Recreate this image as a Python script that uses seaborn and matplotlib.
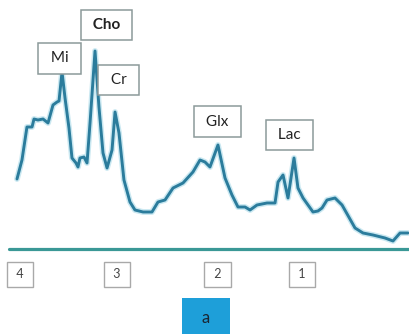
import matplotlib
matplotlib.use("Agg")
import matplotlib.pyplot as plt
from matplotlib.patches import Rectangle
import pandas as pd
import seaborn as sns

# Chemical shift axis (ppm) and signal intensity (a.u.)
ppm = [4.032, 3.979, 3.926, 3.872, 3.851, 3.809, 3.755, 3.702, 3.649, 3.606,
       3.585, 3.553, 3.521, 3.479, 3.447, 3.404, 3.383, 3.362, 3.319, 3.287,
       3.255, 3.202, 3.160, 3.117, 3.074, 3.021, 2.989, 2.947, 2.894, 2.830,
       2.777, 2.691, 2.596, 2.532, 2.457, 2.372, 2.266, 2.160, 2.085, 2.032,
       1.979, 1.894, 1.819, 1.745, 1.681, 1.606, 1.553, 1.479, 1.372, 1.287,
       1.255, 1.202, 1.149, 1.085, 1.043, 0.989, 0.883, 0.830, 0.787, 0.734,
       0.649, 0.574, 0.436, 0.351, 0.245, 0.117, 0.032, -0.043, -0.128]
signal = [70, 89, 122, 122, 130, 129, 130, 126, 144, 147,
          148, 177, 151, 121, 91, 86, 82, 91, 92, 86,
          126, 198, 142, 96, 81, 99, 137, 116, 69, 47,
          39, 37, 37, 47, 49, 61, 66, 77, 89, 87,
          82, 104, 71, 54, 42, 42, 39, 44, 46, 46,
          67, 74, 51, 91, 61, 51, 37, 38, 41, 49,
          51, 44, 21, 16, 14, 11, 8, 16, 16]

# Metabolite peaks: name, peak position (ppm)
metabolites = ["Mi", "Cho", "Cr", "Glx", "Lac"]
metabolite_ppm = [3.553, 3.202, 2.989, 1.894, 1.085]

# x tick positions and labels
tick_pos = [4.0, 2.97, 1.90, 1.0]
tick_labels = ["4", "3", "2", "1"]

df = pd.DataFrame({"ppm": ppm, "signal": signal})

sns.set_theme(style="white")
plt.rcParams["font.family"] = ["Lato", "DejaVu Sans"]

W, H = 409, 334
fig = plt.figure(figsize=(W / 100, H / 100), dpi=100)
fig.patch.set_facecolor("white")
base_px = 249
ax = fig.add_axes([0, (H - base_px) / H, 1, base_px / H])
ax.set_facecolor("white")

# soft halo then the spectrum line
sns.lineplot(data=df, x="ppm", y="signal", ax=ax, color="#9fd6e6",
             linewidth=4.2, alpha=0.55, estimator=None, sort=False)
sns.lineplot(data=df, x="ppm", y="signal", ax=ax, color="#2b7c9c",
             linewidth=2.1, estimator=None, sort=False)

ax.set_xlim(396 / 94, (396 - W) / 94)
ax.set_ylim(0, base_px)
for s in ax.spines.values():
    s.set_visible(False)

# baseline
ax.axhline(0, xmin=9 / W, xmax=1, color="#3a9896", linewidth=2.3, clip_on=False)

ax.set_xticks(tick_pos)
ax.set_xticklabels([f" {t} " for t in tick_labels])
ax.tick_params(axis="x", length=0, pad=14, labelsize=9, labelcolor="#444444")
for lab in ax.get_xticklabels():
    lab.set_bbox(dict(boxstyle="square,pad=0.5", facecolor="white",
                      edgecolor="#a9a9a9", linewidth=1.0))
ax.set_yticks([])
ax.set_xlabel("")
ax.set_ylabel("")

# metabolite labels boxed above each peak (offsets in pixels)
offsets = {"Mi": (-2.5, 13.5), "Cho": (11.5, 26), "Cr": (3.5, 32),
           "Glx": (-0.5, 23.5), "Lac": (-4.5, 23)}
for name, pos in zip(metabolites, metabolite_ppm):
    val = signal[ppm.index(pos)]
    dx, dy = offsets[name]
    ax.annotate(f" {name} ", xy=(pos, val), xytext=(dx, dy),
                textcoords="offset pixels", ha="center", va="center",
                fontsize=11, color="#222222",
                fontweight="bold" if name == "Cho" else "normal",
                bbox=dict(boxstyle="square,pad=0.55", facecolor="white",
                          edgecolor="#8c9a9a", linewidth=1.1),
                annotation_clip=False)

# panel tag
fig.patches.append(Rectangle((182 / W, 0), 48 / W, (H - 298) / H,
                             transform=fig.transFigure, facecolor="#1e9fd9",
                             edgecolor="none"))
fig.text(206 / W, 1 - 318 / H, "a", ha="center", va="center",
         fontsize=12, color="#1a2633")

fig.savefig("out.png", dpi=100)
